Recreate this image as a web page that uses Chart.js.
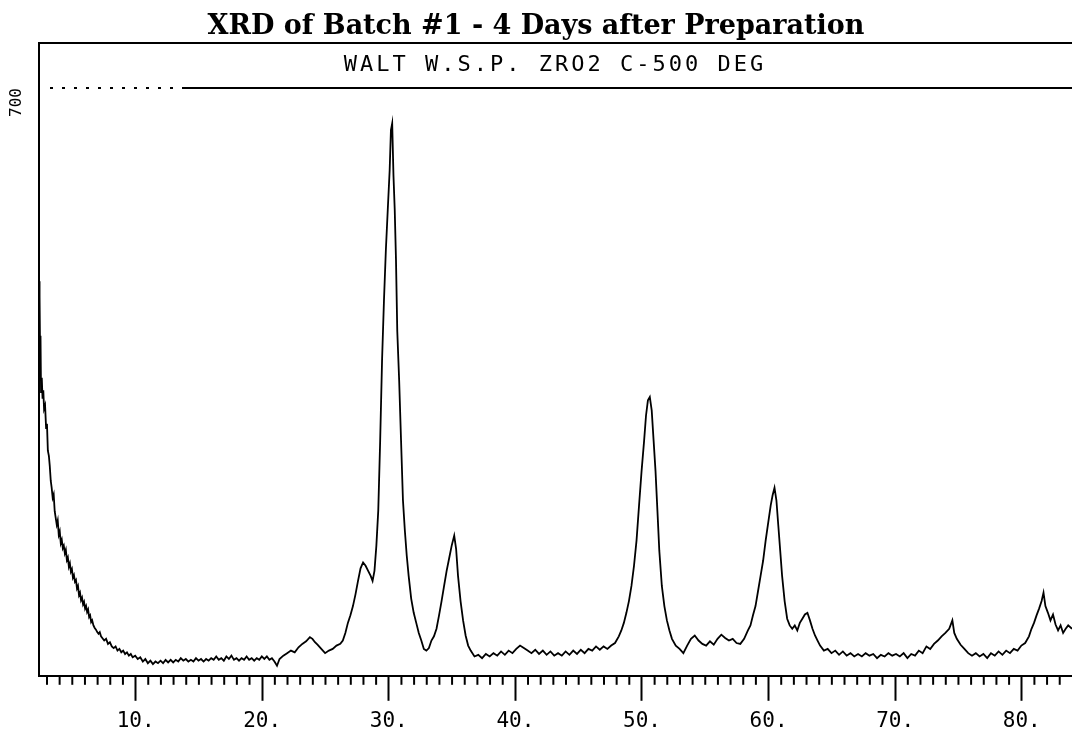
<!DOCTYPE html>
<html>
<head>
<meta charset="utf-8">
<script src="https://cdn.jsdelivr.net/npm/chart.js@4/dist/chart.umd.min.js"></script>
<style>
  html, body { margin: 0; padding: 0; background: #fff; }
  #wrap { width: 1072px; height: 742px; }
</style>
</head>
<body>
<div id="wrap"><canvas id="xrd"></canvas></div>
<script>
// chart texts
const chartTitle = 'XRD of Batch #1 - 4 Days after Preparation';
const sampleLabel = 'WALT W.S.P. ZRO2 C-500 DEG';
const yTopLabel = '700';
const majorTicks = [10, 20, 30, 40, 50, 60, 70, 80];

// 2-theta (deg)
const twoTheta = [
  2.37, 2.40, 2.43, 2.46, 2.49, 2.53, 2.59, 2.65, 2.71, 2.77, 2.85, 2.93, 3.00, 3.07, 3.15, 3.22, 3.30,
  3.37, 3.45, 3.53, 3.61, 3.69, 3.77, 3.85, 3.93, 4.01, 4.09, 4.17, 4.25, 4.33,
  4.41, 4.49, 4.57, 4.65, 4.73, 4.81, 4.89, 4.97, 5.05, 5.13, 5.21, 5.29,
  5.37, 5.45, 5.53, 5.61, 5.69, 5.77, 5.85, 5.93, 6.01, 6.09, 6.17, 6.25, 6.33,
  6.41, 6.49, 6.57, 6.67, 6.77, 6.87, 6.97, 7.07, 7.17, 7.27,
  7.37, 7.52, 7.67, 7.82, 7.97, 8.12, 8.27, 8.42, 8.57, 8.72, 8.87, 9.02, 9.17, 9.32,
  9.47, 9.62, 9.77, 9.97, 10.17, 10.37, 10.57, 10.77, 10.97, 11.17, 11.37, 11.57, 11.77, 11.97, 12.17,
  12.37, 12.57, 12.77, 12.97, 13.17, 13.37, 13.57, 13.77, 13.97, 14.17, 14.37, 14.57, 14.77, 14.97, 15.17,
  15.37, 15.57, 15.77, 15.97, 16.17, 16.37, 16.57, 16.77, 16.97, 17.17, 17.37, 17.57, 17.77, 17.97, 18.17,
  18.37, 18.57, 18.77, 18.97, 19.17, 19.37, 19.57, 19.77, 19.97, 20.17, 20.37, 20.57, 20.77, 20.97, 21.17,
  21.37, 21.67, 21.97, 22.27, 22.57, 22.87, 23.17, 23.47, 23.77, 23.97, 24.17, 24.37, 24.67, 24.97, 25.27,
  25.57, 25.87, 26.17, 26.37, 26.57, 26.77, 26.97, 27.17, 27.37, 27.57, 27.77, 27.97, 28.17, 28.37, 28.57, 28.72,
  28.87, 29.02, 29.17, 29.32, 29.47, 29.62, 29.77, 29.92, 30.07, 30.17, 30.27, 30.37, 30.47, 30.57, 30.67, 30.82,
  30.97, 31.12, 31.27, 31.42, 31.57, 31.77, 31.97, 32.17, 32.37, 32.57, 32.77, 32.97, 33.17, 33.37, 33.57, 33.77,
  33.97, 34.17, 34.37, 34.57, 34.77, 34.97, 35.17, 35.32, 35.47, 35.67, 35.87, 36.07, 36.27, 36.47, 36.77, 37.07,
  37.37, 37.67, 37.97, 38.27, 38.57, 38.87, 39.17, 39.47, 39.77, 40.07, 40.37, 40.67, 40.97, 41.27, 41.57, 41.87,
  42.17, 42.47, 42.77, 43.07, 43.37, 43.67, 43.97, 44.27, 44.57, 44.87, 45.17, 45.47, 45.77, 46.07, 46.37, 46.67,
  46.97, 47.27, 47.57, 47.87, 48.17, 48.37, 48.57, 48.77, 48.97, 49.17, 49.37, 49.57, 49.77, 49.97, 50.17, 50.32,
  50.47, 50.62, 50.77, 50.92, 51.07, 51.22, 51.37, 51.57, 51.77, 51.97, 52.17, 52.37, 52.67, 52.97, 53.27, 53.57,
  53.87, 54.17, 54.47, 54.77, 55.07, 55.37, 55.67, 55.97, 56.27, 56.57, 56.87, 57.17, 57.47, 57.77, 58.07, 58.37,
  58.57, 58.77, 58.97, 59.17, 59.37, 59.57, 59.77, 59.97, 60.17, 60.32, 60.47, 60.62, 60.77, 60.92, 61.07, 61.27,
  61.47, 61.67, 61.87, 62.07, 62.27, 62.47, 62.67, 62.87, 63.07, 63.27, 63.47, 63.67, 63.87, 64.07, 64.37, 64.67,
  64.97, 65.27, 65.57, 65.87, 66.17, 66.47, 66.77, 67.07, 67.37, 67.67, 67.97, 68.27, 68.57, 68.87, 69.17, 69.47,
  69.77, 70.07, 70.37, 70.67, 70.97, 71.27, 71.57, 71.87, 72.17, 72.47, 72.77, 73.07, 73.37, 73.67, 73.97, 74.27,
  74.52, 74.67, 74.87, 75.17, 75.47, 75.77, 76.07, 76.37, 76.67, 76.97, 77.27, 77.57, 77.87, 78.17, 78.47, 78.77,
  79.07, 79.37, 79.67, 79.97, 80.27, 80.57, 80.77, 80.97, 81.17, 81.37, 81.57, 81.72, 81.87, 82.07, 82.27, 82.47,
  82.67, 82.87, 83.07, 83.27, 83.47, 83.67, 83.97
];

// intensity (counts) at each 2-theta
const counts = [
  470, 415, 452, 380, 405, 338, 355, 330, 340, 318, 322, 295, 300, 268, 262, 250, 232,
  224, 212, 216, 196, 188, 180, 185, 168, 172, 158, 162, 152, 155,
  146, 150, 138, 141, 130, 134, 124, 127, 117, 120, 112, 114,
  104, 107, 96, 99, 90, 93, 85, 88, 80, 83, 76, 79, 70,
  72, 64, 66, 60, 57, 55, 52, 50, 52, 47,
  45, 42, 44, 38, 40, 35, 33, 35, 30, 32, 28, 30, 26, 28,
  24, 26, 22, 24, 20, 22, 17, 20, 15, 18, 14, 17, 15, 18, 15,
  19, 16, 19, 16, 19, 17, 21, 18, 20, 17, 19, 17, 21, 18, 20,
  17, 20, 18, 21, 19, 23, 19, 21, 18, 23, 20, 24, 19, 21, 18,
  21, 19, 23, 19, 21, 18, 21, 19, 23, 20, 23, 19, 21, 17, 12,
  20, 24, 27, 30, 28, 34, 38, 41, 46, 44, 40, 37, 32, 27, 30,
  32, 36, 38, 42, 51, 63, 72, 83, 97, 113, 128, 135, 131, 125, 119, 113,
  125, 155, 197, 280, 376, 447, 507, 555, 602, 650, 658, 596, 555, 495, 411, 352,
  280, 209, 173, 143, 119, 92, 75, 63, 51, 42, 32, 30, 33, 42, 47, 56,
  72, 89, 107, 125, 140, 155, 167, 151, 119, 89, 66, 48, 36, 30, 23, 25,
  21, 26, 23, 27, 24, 29, 25, 30, 27, 32, 36, 33, 30, 27, 31, 26,
  30, 25, 29, 24, 27, 24, 29, 25, 30, 26, 31, 27, 32, 30, 35, 31,
  35, 32, 36, 39, 47, 54, 63, 75, 89, 107, 131, 161, 203, 244, 280, 310,
  328, 332, 316, 280, 244, 197, 149, 107, 83, 66, 54, 44, 36, 32, 27, 36,
  44, 48, 42, 38, 36, 41, 37, 44, 49, 45, 42, 44, 39, 38, 44, 54,
  60, 72, 83, 101, 119, 137, 161, 182, 203, 215, 224, 209, 179, 149, 119, 89,
  68, 60, 56, 60, 54, 63, 68, 73, 75, 66, 56, 48, 42, 36, 30, 32,
  27, 30, 25, 29, 24, 27, 23, 26, 23, 27, 24, 26, 21, 25, 23, 27,
  24, 26, 23, 27, 21, 26, 24, 30, 27, 35, 32, 38, 42, 47, 51, 56,
  66, 51, 44, 37, 32, 27, 24, 27, 23, 26, 21, 27, 24, 29, 25, 30,
  27, 32, 30, 36, 39, 47, 56, 63, 72, 80, 89, 99, 83, 75, 66, 73,
  61, 54, 60, 51, 56, 60, 56
];

const points = twoTheta.map((t, i) => ({ x: t, y: counts[i] }));

// frame box, sample label and the minor ticks under the axis
const framePlugin = {
  id: 'framePlugin',
  afterDraw(chart) {
    const { ctx, chartArea, scales } = chart;
    const xs = scales.x;
    const boxTop = 43;
    ctx.save();
    ctx.strokeStyle = '#000';
    ctx.lineWidth = 2;

    ctx.beginPath();
    ctx.moveTo(chartArea.left, chartArea.top);
    ctx.lineTo(chartArea.left, boxTop);
    ctx.lineTo(chart.width, boxTop);
    ctx.stroke();

    ctx.beginPath();
    ctx.moveTo(185, chartArea.top);
    ctx.lineTo(chart.width, chartArea.top);
    ctx.stroke();
    ctx.setLineDash([3, 9]);
    ctx.beginPath();
    ctx.moveTo(50, chartArea.top);
    ctx.lineTo(185, chartArea.top);
    ctx.stroke();
    ctx.setLineDash([]);

    for (let d = Math.ceil(xs.min); d <= xs.max; d++) {
      if (d % 10 === 0) continue;
      const px = xs.getPixelForValue(d);
      ctx.beginPath();
      ctx.moveTo(px, chartArea.bottom);
      ctx.lineTo(px, chartArea.bottom + 9);
      ctx.stroke();
    }

    ctx.font = '22px "DejaVu Sans Mono"';
    ctx.letterSpacing = '3px';
    ctx.fillStyle = '#000';
    ctx.textAlign = 'center';
    ctx.textBaseline = 'middle';
    ctx.fillText(sampleLabel, 555, (boxTop + chartArea.top) / 2);
    ctx.restore();
  }
};

new Chart(document.getElementById('xrd'), {
  type: 'line',
  data: {
    datasets: [{
      data: points,
      borderColor: '#000',
      borderWidth: 1.8,
      pointRadius: 0,
      tension: 0,
      fill: false
    }]
  },
  options: {
    responsive: true,
    maintainAspectRatio: false,
    animation: false,
    layout: { padding: { left: 0, right: 0, top: 0, bottom: 0 } },
    plugins: {
      legend: { display: false },
      tooltip: { enabled: false },
      title: {
        display: true,
        text: chartTitle,
        color: '#000',
        font: { family: 'DejaVu Serif', size: 27, weight: 'bold' },
        padding: { top: 11, bottom: 44.6 }
      }
    },
    scales: {
      x: {
        type: 'linear',
        min: 2.37,
        max: 83.97,
        afterBuildTicks: (scale) => {
          scale.ticks = majorTicks.map(v => ({ value: v }));
        },
        ticks: {
          callback: v => v + '.',
          color: '#000',
          font: { family: 'DejaVu Sans Mono', size: 21 },
          padding: 8,
          maxRotation: 0,
          autoSkip: false
        },
        grid: { drawOnChartArea: false, tickLength: 25, tickWidth: 2, tickColor: '#000' },
        border: { color: '#000', width: 2 }
      },
      y: {
        min: 0,
        max: 700,
        ticks: { display: false },
        grid: { drawOnChartArea: false, drawTicks: false },
        border: { color: '#000', width: 2 },
        title: {
          display: true,
          text: yTopLabel,
          align: 'end',
          color: '#000',
          font: { family: 'DejaVu Sans Mono', size: 16 },
          padding: { top: 7, bottom: 12.8 }
        }
      }
    }
  },
  plugins: [framePlugin]
});
</script>
</body>
</html>
